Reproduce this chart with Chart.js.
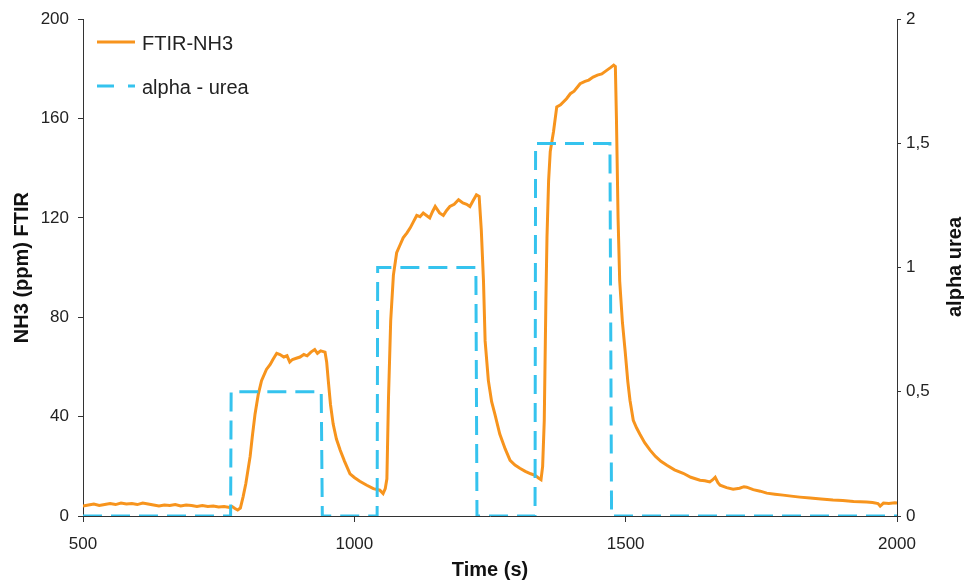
<!DOCTYPE html>
<html lang="en">
<head>
<meta charset="UTF-8">
<title>NH3 FTIR vs alpha urea</title>
<script src="https://cdn.jsdelivr.net/npm/chart.js"></script>
<style>
    body { margin: 0; background: #fff; }
    #box { width: 964px; height: 586px; }
</style>
</head>
<body>
<div id="box"><canvas id="myChart" width="964" height="586"></canvas></div>
<script>
// time (s) and NH3 (ppm)
const nh3Time = [500,510,520,530,540,550,560,570,580,590,600,610,620,630,640,650,660,670,680,690,700,710,720,730,740,750,760,770,775,780,785,790,
    795,800,808,812,817,823,829,838,845,850,857,863,870,876,881,886,893,900,907,913,920,927,932,938,946,
    949,952,956,961,967,974,982,992,1000,1010,1023,1035,1047,1053,1057,1060,1063,1067,1072,1078,1084,1090,1097,1103,1109,1115,1121,1127,1133,1139,1144,1149,1157,1164,1170,1176,1184,1192,1200,1207,1213,1219,1225,1230,
    1234,1238,1241,1247,1253,1259,1268,1278,1287,1296,1305,1315,1325,1333,1340,1344,1347,1350,1353,1355,1358,1361,1367,1373,1380,1391,1398,1405,1416,1425,1432,1440,1448,1456,1465,1472,1478,1481,
    1483,1486,1489,1494,1499,1504,1508,1514,1520,1526,1535,1545,1555,1565,1576,1590,1606,1620,1637,1646,1655,1660,1665,1670,1674,1686,1698,1710,1718,1723,1735,1748,1760,1775,1790,1805,1821,1840,1860,1882,1900,1920,1944,1955,1965,1969,1975,1985,1996,2000];
const nh3Ppm = [4.0,4.4,4.8,4.2,4.6,5.0,4.6,5.2,4.8,5.0,4.6,5.2,4.8,4.4,4.0,4.4,4.2,4.6,4.0,4.4,4.2,3.8,4.2,3.8,4.0,3.6,3.8,3.4,3.8,3.0,2.4,3.2,
    7.7,13,24,32,41,49,54.5,59,61,63,65.5,65,64,64.5,62,63,63.5,64,65,64.5,66,67,65.5,66.5,66,
    62,54.5,45,37,31,26.5,22,17,15.5,14,12.4,11,10.4,9.0,11,15,48,78.6,97,106,109,112,114,116,118.5,121,120.5,122,121,120,122.5,124.6,122,121,123,124.6,125.5,127.3,126,125.5,124.6,127,129.3,128.7,
    115,94.6,70.5,54.5,46,41,33,27,22.4,20.5,19.2,18,17,16.4,15.2,14.6,20,38.5,86.6,112,135,146.7,154.7,164.7,165.5,168,170,171,174,175,175.5,176.7,177.5,178,179.4,180.5,181.5,181,
    160,120,94.6,78,66.5,54,46.5,38.5,35.5,33,29.5,26.5,24,22,20.4,18.6,17.2,15.6,14.4,14.2,13.7,14.5,15.6,13.4,12.4,11.4,10.8,11.2,11.8,11.6,10.6,10.0,9.2,8.8,8.4,8.0,7.6,7.2,6.8,6.4,6.2,5.8,5.6,5.4,5.0,4.0,5.2,5.0,5.3,5.2];

// alpha urea steps
const alphaTime = [500,772,773,939,941,1042,1043,1224,1226,1333,1334,1471,1474,2000];
const alphaVal  = [0,0,0.5,0.5,0,0,1,1,0,0,1.5,1.5,0,0];

const xTicks = [500, 1000, 1500, 2000];

const orange = '#f7941d';
const blue = '#35c3ee';
const fontName = '"Liberation Sans", Arial, sans-serif';

const toPts = (xs, ys) => xs.map((x, i) => ({ x: x, y: ys[i] }));

// legend inside plot + right axis title reading upward
const extras = {
    id: 'extras',
    afterDraw(chart) {
        const ctx = chart.ctx;
        ctx.save();
        ctx.lineWidth = 3;
        ctx.strokeStyle = orange;
        ctx.beginPath(); ctx.moveTo(97, 42); ctx.lineTo(135, 42); ctx.stroke();
        ctx.strokeStyle = blue;
        ctx.setLineDash([17, 14]);
        ctx.beginPath(); ctx.moveTo(97, 86); ctx.lineTo(135, 86); ctx.stroke();
        ctx.setLineDash([]);
        ctx.fillStyle = '#222';
        ctx.font = '20px ' + fontName;
        ctx.textBaseline = 'middle';
        ctx.fillText('FTIR-NH3', 142, 44);
        ctx.fillText('alpha - urea', 142, 88);

        ctx.translate(955, 267);
        ctx.rotate(-Math.PI / 2);
        ctx.textAlign = 'center';
        ctx.font = 'bold 20px ' + fontName;
        ctx.fillStyle = '#111';
        ctx.fillText('alpha urea', 0, 0);
        ctx.restore();
    }
};

const ctx = document.getElementById('myChart').getContext('2d');
new Chart(ctx, {
    type: 'line',
    data: {
        datasets: [
            {
                label: 'FTIR-NH3',
                data: toPts(nh3Time, nh3Ppm),
                borderColor: orange,
                borderWidth: 3,
                pointRadius: 0,
                tension: 0,
                yAxisID: 'y',
                order: 2
            },
            {
                label: 'alpha - urea',
                data: toPts(alphaTime, alphaVal),
                borderColor: blue,
                borderWidth: 3,
                borderDash: [19, 9],
                pointRadius: 0,
                tension: 0,
                yAxisID: 'y1',
                order: 1
            }
        ]
    },
    options: {
        responsive: false,
        animation: false,
        layout: { padding: { top: 17, left: 0, right: 0, bottom: 0 } },
        plugins: { legend: { display: false }, tooltip: { enabled: false } },
        scales: {
            x: {
                type: 'linear',
                min: 500, max: 2000,
                afterBuildTicks: s => { s.ticks = xTicks.map(v => ({ value: v })); },
                afterFit: s => { s.height = 70; },
                grid: { drawOnChartArea: false, tickLength: 6, color: '#333' },
                border: { color: '#333' },
                ticks: {
                    color: '#222', font: { family: fontName, size: 17 }, padding: 12, maxRotation: 0,
                    callback: v => String(v)
                },
                title: { display: true, text: 'Time (s)', color: '#111', font: { family: fontName, size: 20, weight: 'bold' }, padding: { top: 0, bottom: 4 } }
            },
            y: {
                position: 'left',
                min: 0, max: 200,
                ticks: { stepSize: 40, color: '#222', font: { family: fontName, size: 17 }, padding: 9 },
                afterFit: s => { s.width = 83; },
                grid: { drawOnChartArea: false, tickLength: 5, color: '#333' },
                border: { color: '#333' },
                title: { display: true, text: 'NH3 (ppm) FTIR', color: '#111', font: { family: fontName, size: 20, weight: 'bold' }, padding: { top: 10, bottom: 0 } }
            },
            y1: {
                position: 'right',
                min: 0, max: 2,
                ticks: {
                    stepSize: 0.5, color: '#222', font: { family: fontName, size: 17 }, padding: 5,
                    callback: v => String(v).replace('.', ',')
                },
                afterFit: s => { s.width = 67; },
                grid: { drawOnChartArea: false, tickLength: 4, color: '#333' },
                border: { color: '#333' }
            }
        }
    },
    plugins: [extras]
});
</script>
</body>
</html>
